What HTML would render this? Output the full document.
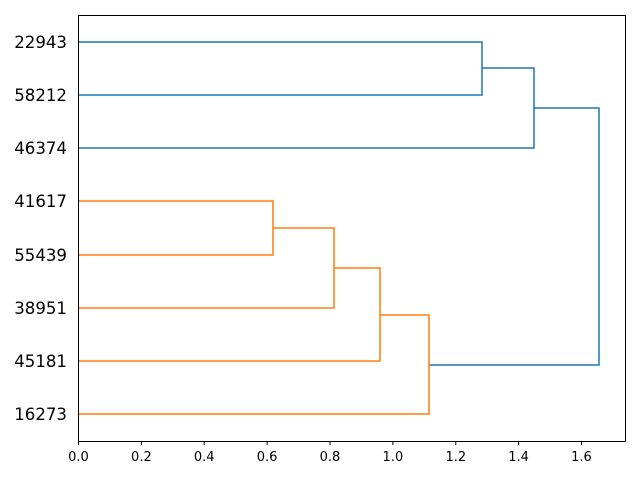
<!DOCTYPE html>
<html><head><meta charset="utf-8"><style>
html,body{margin:0;padding:0;background:#fff;}
</style></head><body>
<svg width="640" height="480" xmlns="http://www.w3.org/2000/svg" font-family="DejaVu Sans, Liberation Sans, sans-serif">
<rect width="640" height="480" fill="#fff"/>
<g fill="none" stroke-width="1.5">
<g stroke="#1f77b4">
<polyline points="78,42 482,42 482,95 78,95"/>
<polyline points="482,68 534,68 534,148 78,148"/>
<polyline points="534,108 599,108 599,365 429,365"/>
</g>
<g stroke="#ff7f0e">
<polyline points="78,201 273,201 273,255 78,255"/>
<polyline points="273,228 334,228 334,308 78,308"/>
<polyline points="334,268 380,268 380,361 78,361"/>
<polyline points="380,315 429,315 429,414 78,414"/>
</g>
</g>
<rect x="78.5" y="15.5" width="547" height="426" fill="none" stroke="#000" stroke-width="1"/>
<g stroke="#000" stroke-width="1">
<line x1="78.5" y1="441" x2="78.5" y2="445"/>
<line x1="141.4" y1="441" x2="141.4" y2="445"/>
<line x1="204.2" y1="441" x2="204.2" y2="445"/>
<line x1="267.1" y1="441" x2="267.1" y2="445"/>
<line x1="330" y1="441" x2="330" y2="445"/>
<line x1="392.9" y1="441" x2="392.9" y2="445"/>
<line x1="455.8" y1="441" x2="455.8" y2="445"/>
<line x1="518.6" y1="441" x2="518.6" y2="445"/>
<line x1="581.5" y1="441" x2="581.5" y2="445"/>
</g>
<g font-size="13" text-anchor="middle" fill="#000">
<text x="78.5" y="461">0.0</text>
<text x="141.4" y="461">0.2</text>
<text x="204.2" y="461">0.4</text>
<text x="267.1" y="461">0.6</text>
<text x="330" y="461">0.8</text>
<text x="392.9" y="461">1.0</text>
<text x="455.8" y="461">1.2</text>
<text x="518.6" y="461">1.4</text>
<text x="581.5" y="461">1.6</text>
</g>
<g font-size="16.6" text-anchor="end" fill="#000">
<text x="67" y="48">22943</text>
<text x="67" y="101">58212</text>
<text x="67" y="154">46374</text>
<text x="67" y="207">41617</text>
<text x="67" y="261">55439</text>
<text x="67" y="314">38951</text>
<text x="67" y="367">45181</text>
<text x="67" y="420">16273</text>
</g>
</svg>
</body></html>
